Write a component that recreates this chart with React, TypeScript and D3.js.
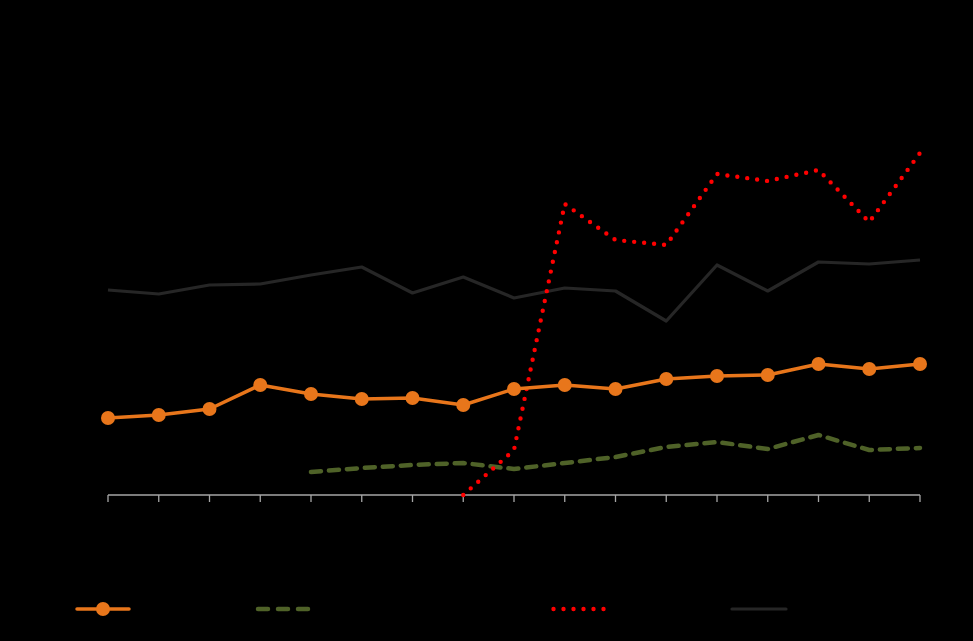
import React from "react";
import * as d3 from "d3";

const categories = ["1","2","3","4","5","6","7","8","9","10","11","12","13","14","15","16","17"];
const orangeValues = [7.7, 8.0, 8.6, 11.0, 10.1, 9.6, 9.7, 9.0, 10.6, 11.0, 10.6, 11.6, 11.9, 12.0, 13.1, 12.6, 13.1];
const greenValues: (number | null)[] = [null, null, null, null, 2.3, 2.7, 3.0, 3.2, 2.6, 3.2, 3.8, 4.8, 5.3, 4.6, 6.0, 4.5, 4.7];
const redValues: (number | null)[] = [null, null, null, null, null, null, null, 0.0, 4.5, 29.1, 25.5, 25.0, 32.1, 31.4, 32.5, 27.3, 34.2];
const grayValues = [20.5, 20.1, 21.0, 21.1, 22.0, 22.8, 20.2, 21.8, 19.7, 20.7, 20.4, 17.4, 23.0, 20.4, 23.3, 23.1, 23.5];

const W = 973;
const H = 641;

export default function App() {
  const x = d3.scalePoint<string>().domain(categories).range([108, 920]);
  const y = d3.scaleLinear().domain([0, 45]).range([495, 45]);

  const line = d3
    .line<number | null>()
    .defined((d) => d !== null)
    .x((_, i) => x(categories[i]) as number)
    .y((d) => y(d as number));

  const ticks = categories.map((c) => x(c) as number);

  return (
    <svg
      width={W}
      height={H}
      style={{ position: "absolute", left: 0, top: 0, background: "#000" }}
    >
      <rect x={0} y={0} width={W} height={H} fill="#000" />
      {/* axis */}
      <line x1={108} x2={920} y1={y(0)} y2={y(0)} stroke="#a6a6a6" strokeWidth={1.3} />
      {ticks.map((t, i) => (
        <line key={i} x1={t} x2={t} y1={y(0)} y2={y(0) + 7} stroke="#a6a6a6" strokeWidth={1.3} />
      ))}
      {/* gray line */}
      <path d={line(grayValues) || ""} fill="none" stroke="#262626" strokeWidth={3.2} strokeLinejoin="round" />
      {/* green dashed */}
      <path
        d={line(greenValues) || ""}
        fill="none"
        stroke="#4F6228"
        strokeWidth={4.5}
        strokeDasharray="10 8"
        strokeLinecap="round"
        strokeLinejoin="round"
      />
      {/* red dotted */}
      <path
        d={line(redValues) || ""}
        fill="none"
        stroke="#FF0000"
        strokeWidth={4.4}
        strokeDasharray="0 10"
        strokeLinecap="round"
        strokeLinejoin="round"
      />
      {/* orange */}
      <path d={line(orangeValues) || ""} fill="none" stroke="#E8761B" strokeWidth={3.5} strokeLinejoin="round" />
      {orangeValues.map((v, i) => (
        <circle key={i} cx={x(categories[i]) as number} cy={y(v)} r={7} fill="#E8761B" />
      ))}
      {/* legend */}
      <g>
        <line x1={77} x2={129} y1={609} y2={609} stroke="#E8761B" strokeWidth={3.5} strokeLinecap="round" />
        <circle cx={103} cy={609} r={7} fill="#E8761B" />
        <line x1={258} x2={308} y1={609} y2={609} stroke="#4F6228" strokeWidth={4.5} strokeDasharray="10 10" strokeLinecap="round" />
        <line x1={553.5} x2={605} y1={609} y2={609} stroke="#FF0000" strokeWidth={4.4} strokeDasharray="0 10" strokeLinecap="round" />
        <line x1={732} x2={786} y1={609} y2={609} stroke="#262626" strokeWidth={3.2} strokeLinecap="round" />
      </g>
    </svg>
  );
}
